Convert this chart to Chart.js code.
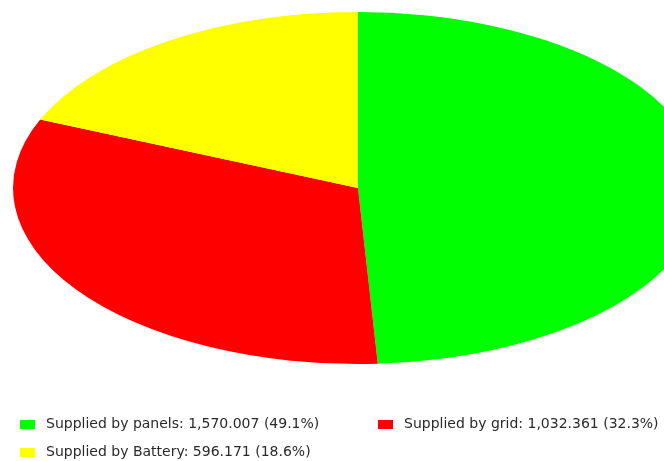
<!DOCTYPE html>
<html>
<head>
<meta charset="utf-8">
<script src="https://cdn.jsdelivr.net/npm/chart.js@4.4.1/dist/chart.umd.min.js"></script>
<style>
  html, body { margin: 0; padding: 0; background: #fff; }
  #wrap { width: 664px; height: 461px; }
</style>
</head>
<body>
<div id="wrap"><canvas id="energyPie" width="664" height="461"></canvas></div>
<script>
// energy sources for the period
var labels = ["Supplied by panels", "Supplied by grid", "Supplied by Battery"];
var values = [1570.007, 1032.361, 596.171];
var colors = ["#00ff00", "#ff0000", "#ffff00"];

// pie is stretched sideways into an ellipse
var stretchX = 345 / 176;

var total = values.reduce(function (a, b) { return a + b; }, 0);

function fmt(v) {
	return v.toLocaleString("en-US", { minimumFractionDigits: 3, maximumFractionDigits: 3 });
}

var ellipsePlugin = {
	id: "ellipse",
	beforeDatasetsDraw: function (chart) {
		var arc = chart.getDatasetMeta(0).data[0];
		var ctx = chart.ctx;
		ctx.save();
		ctx.translate(arc.x, arc.y);
		ctx.scale(stretchX, 1);
		ctx.translate(-arc.x, -arc.y);
	},
	afterDatasetsDraw: function (chart) {
		chart.ctx.restore();
	}
};

// legend laid out in two columns under the pie
var legendPlugin = {
	id: "sideLegend",
	afterDraw: function (chart) {
		var ctx = chart.ctx;
		var spots = [[20, 424], [378, 424], [20, 452]];
		ctx.save();
		ctx.font = "14px 'DejaVu Sans'";
		ctx.textBaseline = "middle";
		for (i = 0; i < labels.length; i++) {
			var x = spots[i][0], y = spots[i][1];
			ctx.fillStyle = colors[i];
			ctx.fillRect(x, y - 4, 15, 9);
			ctx.fillStyle = "#2a2a2a";
			var pct = (values[i] / total * 100).toFixed(1);
			ctx.fillText(labels[i] + ": " + fmt(values[i]) + " (" + pct + "%)", x + 26, y);
		}
		ctx.restore();
	}
};

var ctx = document.getElementById("energyPie").getContext("2d");
var energyPie = new Chart(ctx, {
	type: "pie",
	data: {
		labels: labels,
		datasets: [{
			data: values,
			backgroundColor: colors,
			borderWidth: 0
		}]
	},
	options: {
		responsive: false,
		animation: false,
		events: [],
		layout: {
			padding: { left: 182, right: 130, top: 12, bottom: 97 }
		},
		plugins: {
			legend: { display: false },
			tooltip: { enabled: false }
		}
	},
	plugins: [ellipsePlugin, legendPlugin]
});
</script>
</body>
</html>
